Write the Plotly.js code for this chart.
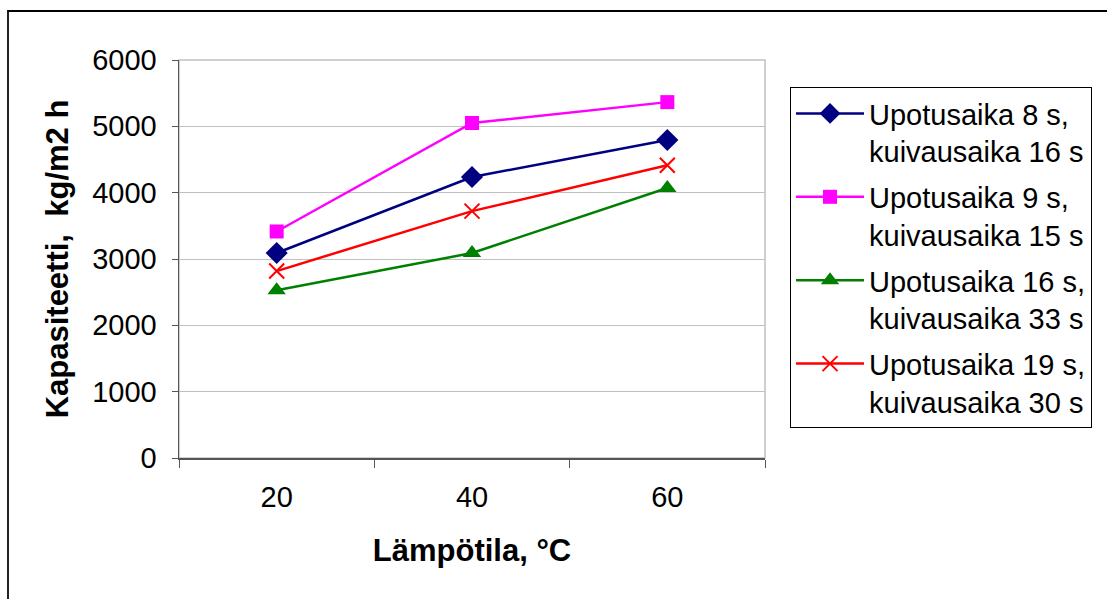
<!DOCTYPE html>
<html>
<head>
<meta charset="utf-8">
<script src="https://cdn.plot.ly/plotly-3.0.1.min.js"></script>
<style>
  html, body { margin: 0; padding: 0; background: #fff; }
  #wrap { position: relative; width: 1107px; height: 599px; overflow: hidden; }
  #chart { position: absolute; left: 0; top: 0; width: 1107px; height: 599px; }
  #frame { position: absolute; left: 7px; top: 10px; width: 1200px; height: 700px;
           border-left: 2px solid #222; border-top: 2px solid #000; pointer-events: none; }
</style>
</head>
<body>
<div id="wrap">
  <div id="chart"></div>
  <div id="frame"></div>
</div>
<script>
const categories = ['20', '40', '60'];
const seriesNames = [
  'Upotusaika 8 s,<br>kuivausaika 16 s',
  'Upotusaika 9 s,<br>kuivausaika 15 s',
  'Upotusaika 16 s,<br>kuivausaika 33 s',
  'Upotusaika 19 s,<br>kuivausaika 30 s'
];
const upotus8 = [3090, 4236, 4795];
const upotus9 = [3415, 5050, 5365];
const upotus16 = [2530, 3090, 4070];
const upotus19 = [2818, 3722, 4413];
const yTicks = [0, 1000, 2000, 3000, 4000, 5000, 6000];
const xTitle = 'Lämpötila, °C';
const yTitle = 'Kapasiteetti,  kg/m2 h';

const FONT = '"Liberation Sans", Arial, sans-serif';

const styles = [
  {color: '#000080', symbol: 'diamond', size: 17, lineW: 0},
  {color: '#FF00FF', symbol: 'square', size: 14, lineW: 0},
  {color: '#008000', symbol: 'triangle-up', size: 16, lineW: 0},
  {color: '#FF0000', symbol: 'x-thin', size: 15, lineW: 2}
];
const values = [upotus8, upotus9, upotus16, upotus19];

const traces = values.map((v, i) => ({
  type: 'scatter',
  mode: 'lines+markers',
  x: categories,
  y: v,
  name: seriesNames[i],
  line: {color: styles[i].color, width: 2.5},
  marker: {
    symbol: styles[i].symbol,
    size: styles[i].size,
    color: styles[i].color,
    line: {color: styles[i].color, width: styles[i].lineW}
  },
  legendgroup: 'g' + i
}));

const layout = {
  width: 1107,
  height: 599,
  margin: {l: 179, r: 342, t: 60, b: 141, pad: 0},
  paper_bgcolor: '#ffffff',
  plot_bgcolor: '#ffffff',
  font: {family: FONT, size: 28, color: '#000'},
  showlegend: true,
  legend: {
    x: 1.0427, xanchor: 'left',
    y: 0.932, yanchor: 'top',
    bordercolor: '#000', borderwidth: 1,
    bgcolor: '#fff',
    font: {family: FONT, size: 29, color: '#000'},
    tracegroupgap: 5,
    itemwidth: 68,
    valign: 'top'
  },
  xaxis: {
    type: 'category',
    categoryorder: 'array',
    categoryarray: categories,
    range: [-0.5, 2.5],
    tickson: 'boundaries',
    ticks: 'outside',
    ticklen: 8,
    tickcolor: '#555',
    showline: true,
    linecolor: '#555',
    linewidth: 1.5,
    showgrid: false,
    zeroline: false,
    ticklabelstandoff: 13,
    tickfont: {family: FONT, size: 29, color: '#000'},
    title: {text: xTitle, font: {family: FONT, size: 31, color: '#000', weight: 'bold'}, standoff: 27}
  },
  yaxis: {
    range: [0, 6000],
    tickvals: yTicks,
    ticktext: yTicks.map(String),
    ticks: 'outside',
    ticklen: 6,
    tickcolor: '#555',
    showline: true,
    linecolor: '#555',
    linewidth: 1.5,
    showgrid: true,
    gridcolor: '#c0c0c0',
    gridwidth: 1,
    zeroline: false,
    ticklabelstandoff: 9,
    tickfont: {family: FONT, size: 29, color: '#000'},
    title: {text: yTitle, font: {family: FONT, size: 31, color: '#000', weight: 'bold'}, standoff: 14}
  },
  shapes: [{
    type: 'rect', xref: 'paper', yref: 'paper',
    x0: 0, x1: 1, y0: 0, y1: 1,
    line: {color: '#c0c0c0', width: 1.5},
    layer: 'below'
  }]
};

Plotly.newPlot('chart', traces, layout, {displayModeBar: false, staticPlot: true});
</script>
</body>
</html>
